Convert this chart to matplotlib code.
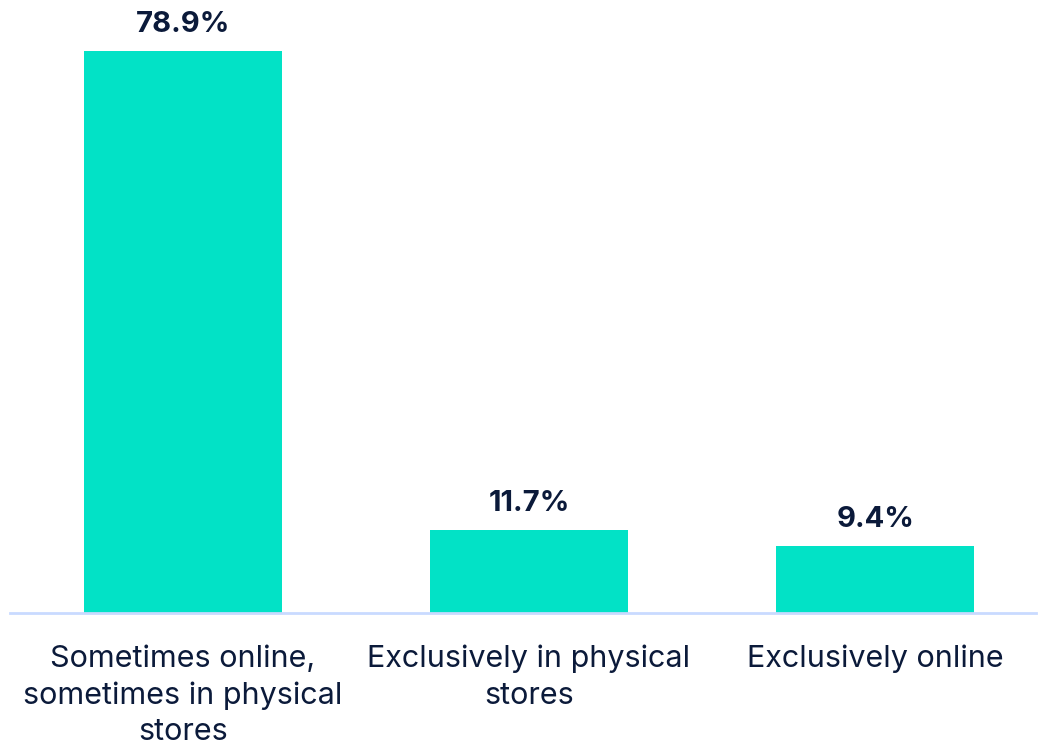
import matplotlib.pyplot as plt

categories = ['Sometimes online,\nsometimes in physical\nstores',
              'Exclusively in physical\nstores',
              'Exclusively online']
values = [78.9, 11.7, 9.4]

bar_color = '#02E2C6'
text_color = '#0B1A3A'

plt.rcParams['font.family'] = ['Inter', 'DejaVu Sans']

fig = plt.figure(figsize=(10.38, 7.48), dpi=100)
ax = fig.add_axes([10 / 1038, 135 / 748, 1026 / 1038, 613 / 748])

x = range(len(values))
ax.bar(x, values, width=0.572, color=bar_color, zorder=2)
for i, v in zip(x, values):
    ax.text(i, v + 1.8, '%.1f%%' % v, ha='center', va='bottom',
            fontsize=21, fontweight='bold', color=text_color)

ax.set_xlim(-0.5, 2.465)
ax.set_ylim(0, 86.1)
ax.set_xticks(list(x))
ax.set_xticklabels(categories, fontsize=22, color=text_color, linespacing=1.38)
ax.tick_params(axis='x', length=0, pad=23)
ax.set_yticks([])
for s in ['top', 'right', 'left']:
    ax.spines[s].set_visible(False)
ax.spines['bottom'].set_color('#C9DAFF')
ax.spines['bottom'].set_linewidth(2)

plt.savefig('out.png', dpi=100)
